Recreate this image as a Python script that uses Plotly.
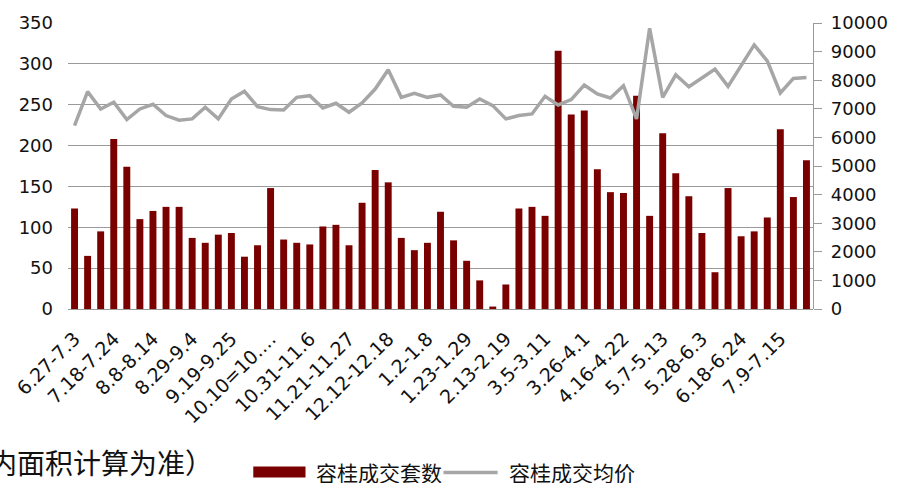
import plotly.graph_objects as go

# weekly categories (label shown every third week)
weeks = [
    "6.27-7.3", "7.4-7.10", "7.11-7.17", "7.18-7.24", "7.25-7.31", "8.1-8.7",
    "8.8-8.14", "8.15-8.21", "8.22-8.28", "8.29-9.4", "9.5-9.11", "9.12-9.18",
    "9.19-9.25", "9.26-10.2", "10.3-10.9", "10.10=10.16", "10.17-10.23", "10.24-10.30",
    "10.31-11.6", "11.7-11.13", "11.14-11.20", "11.21-11.27", "11.28-12.4", "12.5-12.11",
    "12.12-12.18", "12.19-12.25", "12.26-1.1", "1.2-1.8", "1.9-1.15", "1.16-1.22",
    "1.23-1.29", "1.30-2.5", "2.6-2.12", "2.13-2.19", "2.20-2.26", "2.27-3.4",
    "3.5-3.11", "3.12-3.18", "3.19-3.25", "3.26-4.1", "4.2-4.8", "4.9-4.15",
    "4.16-4.22", "4.23-4.29", "4.30-5.6", "5.7-5.13", "5.14-5.20", "5.21-5.27",
    "5.28-6.3", "6.4-6.10", "6.11-6.17", "6.18-6.24", "6.25-7.1", "7.2-7.8",
    "7.9-7.15", "7.16-7.22", "7.23-7.29",
]
tick_weeks = weeks[::3]
tick_text = [w if w != "10.10=10.16" else "10.10=10.…" for w in tick_weeks]

units = [
    123, 65, 95, 208, 174, 110, 120, 125, 125, 87, 81, 91,
    93, 64, 78, 148, 85, 81, 79, 101, 103, 78, 130, 170,
    155, 87, 72, 81, 119, 84, 59, 35, 3, 30, 123, 125,
    114, 316, 238, 243, 171, 143, 142, 261, 114, 215, 166, 138,
    93, 45, 148, 89, 95, 112, 220, 137, 182,
]
avg_price = [
    6415, 7599, 6995, 7227, 6624, 6995, 7158, 6763, 6601, 6647, 7053, 6647,
    7343, 7610, 7077, 6972, 6960, 7401, 7459, 7030, 7193, 6879, 7204, 7691,
    8364, 7401, 7541, 7401, 7483, 7088, 7053, 7343, 7111, 6647, 6763, 6821,
    7436, 7135, 7320, 7831, 7517, 7378, 7807, 6647, 9814, 7401, 8190, 7773,
    8074, 8387, 7784, 8503, 9234, 8677, 7552, 8063, 8097,
]

BAR_COLOR = "#7a0000"
LINE_COLOR = "#a6a6a6"
GRID = "#9a9a9a"
FONT = "DejaVu Sans"
CJK = "Noto Sans CJK SC"

fig = go.Figure()
fig.add_trace(go.Bar(x=weeks, y=units, name="容桂成交套数",
                     marker=dict(color=BAR_COLOR, line=dict(width=0))))
fig.add_trace(go.Scatter(x=weeks, y=avg_price, name="容桂成交均价", yaxis="y2",
                         mode="lines", line=dict(color=LINE_COLOR, width=3.5)))

fig.update_layout(
    width=900, height=483,
    margin=dict(l=67, r=77, t=22, b=174),
    plot_bgcolor="white", paper_bgcolor="white",
    font=dict(family=FONT, size=18, color="#111111"),
    showlegend=False,
    bargap=0.47,
    xaxis=dict(type="category", tickmode="array", tickvals=tick_weeks, ticktext=tick_text,
               tickangle=-45, tickfont=dict(size=19), showgrid=False, ticks="",
               showline=False, ticklabelstandoff=14),
    yaxis=dict(range=[0, 350], dtick=50, showgrid=True, gridcolor=GRID, gridwidth=1.3,
               zeroline=True, zerolinecolor=GRID, zerolinewidth=1.3, showline=False,
               ticks="", ticklabelstandoff=14),
    yaxis2=dict(range=[0, 10000], dtick=1000, tickformat="d", overlaying="y", side="right",
                showgrid=False, zeroline=False, showline=True, linecolor=GRID, linewidth=1.3,
                ticks="outside", ticklen=8, tickcolor=GRID, ticklabelstandoff=5),
)

# legend drawn by hand to match the wide bar swatch
fig.add_shape(type="rect", xref="paper", yref="paper", x0=0.2487, x1=0.3188,
              y0=-0.589, y1=-0.5505, fillcolor=BAR_COLOR, line=dict(width=0))
fig.add_shape(type="line", xref="paper", yref="paper", x0=0.504, x1=0.5767,
              y0=-0.5714, y1=-0.5714, line=dict(color=LINE_COLOR, width=3.5))
fig.add_annotation(text="容桂成交套数", xref="paper", yref="paper", x=0.3307, y=-0.5714,
                   xanchor="left", yanchor="middle", showarrow=False,
                   font=dict(family=CJK, size=21, color="#111111"))
fig.add_annotation(text="容桂成交均价", xref="paper", yref="paper", x=0.5886, y=-0.5714,
                   xanchor="left", yanchor="middle", showarrow=False,
                   font=dict(family=CJK, size=21, color="#111111"))
# footnote, cut off at the left edge in the source
fig.add_annotation(text="以套内面积计算为准）", xref="paper", yref="paper", x=0.1971, y=-0.5366,
                   xanchor="right", yanchor="middle", showarrow=False,
                   font=dict(family=CJK, size=28, color="#111111"))

fig.write_html("out.html", config={"displayModeBar": False},
               post_script="document.body.style.margin='0';")
